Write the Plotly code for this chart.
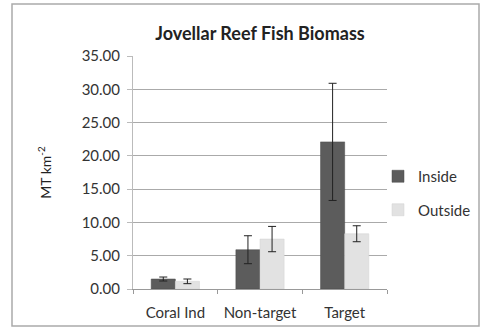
import plotly.graph_objects as go

categories = ["Coral Ind", "Non-target", "Target"]
inside_vals = [1.5, 5.9, 22.1]
inside_err = [0.3, 2.1, 8.8]
outside_vals = [1.15, 7.5, 8.3]
outside_err = [0.35, 1.9, 1.2]
y_ticks = [0, 5, 10, 15, 20, 25, 30, 35]

W, H = 480, 328
L, R, T, B = 133, 387, 56, 289
fnt = "Lato, 'Open Sans', sans-serif"

fig = go.Figure()
fig.add_trace(go.Bar(
    x=categories, y=inside_vals, name="Inside", legendgroup="a",
    marker=dict(color="#5c5c5c", line=dict(color="#4a4a4a", width=0.5)),
    error_y=dict(type="data", array=inside_err, color="#222", thickness=1, width=4),
))
fig.add_trace(go.Bar(
    x=categories, y=outside_vals, name="Outside", legendgroup="b",
    marker=dict(color="#e2e2e2", line=dict(color="#d0d0d0", width=0.5)),
    error_y=dict(type="data", array=outside_err, color="#222", thickness=1, width=4),
))

fig.update_layout(
    width=W, height=H,
    margin=dict(l=L, r=W - R, t=T, b=H - B, pad=0, autoexpand=False),
    paper_bgcolor="white", plot_bgcolor="white",
    barmode="group", bargap=0.43, bargroupgap=0,
    font=dict(family=fnt, size=15, color="#333"),
    title=dict(text="<b>Jovellar Reef Fish Biomass</b>", x=260 / W, xanchor="center",
               y=1 - 34 / H, yanchor="middle", font=dict(size=18, color="#222")),
    showlegend=True,
    legend=dict(xref="container", yref="container", x=378 / W, y=1 - 160 / H,
                xanchor="left", yanchor="top",
                tracegroupgap=11, font=dict(size=15, color="#333"), itemwidth=30,
                bgcolor="rgba(0,0,0,0)"),
    xaxis=dict(type="category", showline=True, linecolor="#999", linewidth=1,
               ticks="outside", tickson="boundaries", ticklen=4, tickcolor="#999",
               ticklabelstandoff=10,
               showgrid=False, automargin=False, tickfont=dict(size=15, color="#333")),
    yaxis=dict(range=[0, 35], tickvals=y_ticks, tickformat=".2f",
               showgrid=True, gridcolor="#aaa", gridwidth=1,
               showline=True, linecolor="#bbb", linewidth=1,
               ticks="outside", ticklen=5, tickcolor="#bbb", automargin=False,
               ticklabelstandoff=4,
               zeroline=False, tickfont=dict(size=15, color="#333"),
               title=dict(text="MT km<sup>-2</sup>", font=dict(size=14, color="#222"), standoff=26)),
    shapes=[dict(type="rect", xref="paper", yref="paper",
                 x0=(12 - L) / (R - L), x1=(479 - L) / (R - L),
                 y0=(B - 326) / (B - T), y1=(B - 4) / (B - T),
                 line=dict(color="#aaa", width=1.5), layer="below")],
)
fig.write_html("out.html", config={"displayModeBar": False},
               post_script="document.body.style.margin='0';document.body.style.overflow='hidden';")
